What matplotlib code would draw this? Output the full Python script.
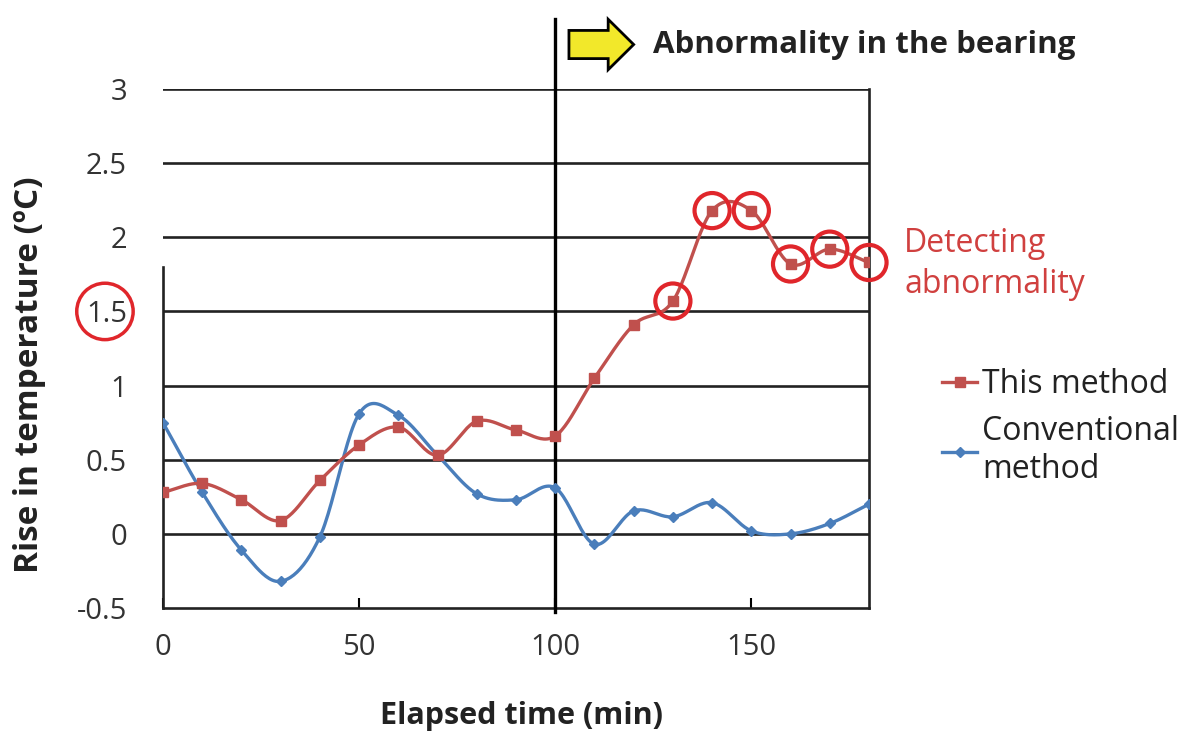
import numpy as np
import matplotlib
matplotlib.use("Agg")
import matplotlib.pyplot as plt
from matplotlib.patches import FancyArrow

plt.rcParams['font.family'] = ['Open Sans', 'DejaVu Sans']

# data
minutes = [0, 10, 20, 30, 40, 50, 60, 70, 80, 90, 100, 110, 120, 130, 140, 150, 160, 170, 180]
this_method = [0.28, 0.34, 0.23, 0.09, 0.36, 0.60, 0.72, 0.53, 0.76, 0.70, 0.66,
               1.05, 1.41, 1.57, 2.18, 2.18, 1.82, 1.92, 1.83]
conventional = [0.75, 0.28, -0.11, -0.32, -0.02, 0.81, 0.80, 0.53, 0.27, 0.23, 0.31,
                -0.07, 0.155, 0.115, 0.21, 0.02, 0.0, 0.07, 0.2]
detected = [130, 140, 150, 160, 170, 180]
y_ticks = [-0.5, 0, 0.5, 1, 1.5, 2, 2.5, 3]
y_tick_labels = ['-0.5', '0', '0.5', '1', '1.5', '2', '2.5', '3']
x_ticks = [0, 50, 100, 150]

red = '#c0504d'
blue = '#4a7ebb'
ring = '#e0262b'


def smooth(x, y, n=24):
    # Catmull-Rom spline, like Excel's "smoothed line"
    x = np.asarray(x, float)
    y = np.asarray(y, float)
    px = np.concatenate([[2 * x[0] - x[1]], x, [2 * x[-1] - x[-2]]])
    py = np.concatenate([[2 * y[0] - y[1]], y, [2 * y[-1] - y[-2]]])
    t = np.linspace(0, 1, n, endpoint=False)
    xs, ys = [], []
    for i in range(1, len(px) - 2):
        for p, out in ((px, xs), (py, ys)):
            p0, p1, p2, p3 = p[i - 1], p[i], p[i + 1], p[i + 2]
            out.extend(0.5 * (2 * p1 + (-p0 + p2) * t
                              + (2 * p0 - 5 * p1 + 4 * p2 - p3) * t ** 2
                              + (-p0 + 3 * p1 - 3 * p2 + p3) * t ** 3))
    xs.append(x[-1])
    ys.append(y[-1])
    return np.array(xs), np.array(ys)


fig = plt.figure(figsize=(11.84, 7.35), dpi=100)
ax = fig.add_axes([163 / 1184, 1 - 608 / 735, 706 / 1184, 519 / 735])
ax.set_xlim(0, 180)
ax.set_ylim(-0.5, 3)

for yv in y_ticks[1:]:
    ax.axhline(yv, color='#222222', lw=1.9, zorder=1)

ax.spines['top'].set_visible(False)
for s in ('left', 'right', 'bottom'):
    ax.spines[s].set_color('#222222')
    ax.spines[s].set_linewidth(1.9)
ax.spines['left'].set_bounds(-0.5, 1.8)

# event line at 100 min, running above the plot
ax.plot([100, 100], [-0.53, 3.47], color='black', lw=2.4, clip_on=False, zorder=3)

sx, sy = smooth(minutes, conventional)
ax.plot(sx, sy, color=blue, lw=2.4, zorder=4)
ax.plot(minutes, conventional, 'D', color=blue, ms=5, zorder=5)
rx, ry = smooth(minutes, this_method)
ax.plot(rx, ry, color=red, lw=2.4, zorder=4)
ax.plot(minutes, this_method, 's', color=red, ms=7, zorder=5)

# rings around detected points
det_y = [this_method[minutes.index(m)] for m in detected]
ax.scatter(detected, det_y, s=640, facecolors='none', edgecolors=ring, linewidths=3,
           zorder=6, clip_on=False)
ax.scatter([-14.8], [1.5], s=1650, facecolors='none', edgecolors=ring, linewidths=2.5,
           clip_on=False)

ax.set_yticks(y_ticks)
ax.set_yticklabels(y_tick_labels)
ax.tick_params(axis='y', length=0, pad=26, labelsize=21, labelcolor='#333333')
ax.set_xticks(x_ticks)
ax.tick_params(axis='x', direction='in', length=7, width=1.5, pad=18,
               labelsize=21, labelcolor='#333333')

arrow = FancyArrow(103.5, 3.30, 16.5, 0, width=0.19, head_width=0.34, head_length=6.5,
                   length_includes_head=True, facecolor='#f2e82a', edgecolor='black',
                   lw=2, clip_on=False, zorder=6)
ax.add_patch(arrow)
ax.text(125, 3.30, 'Abnormality in the bearing', fontsize=22.5, fontweight='bold',
        color='#222222', va='center', ha='left')

ax.text(189, 1.82, 'Detecting\nabnormality', fontsize=23, color='#d0403f',
        va='center', ha='left', linespacing=1.3)

handles = [plt.Line2D([], [], color=red, lw=2.4, marker='s', ms=7),
           plt.Line2D([], [], color=blue, lw=2.4, marker='D', ms=5)]
fig.legend(handles, ['This method', 'Conventional\nmethod'], loc='upper left',
           bbox_to_anchor=(926 / 1184, 1 - 352 / 735), frameon=False, fontsize=23,
           handlelength=1.1, handletextpad=0.15, borderpad=0, labelspacing=0.45,
           labelcolor='#222222')

fig.text(30 / 1184, 1 - 375 / 735, 'Rise in temperature (ºC)', rotation=90,
         fontsize=24, fontweight='bold', color='#222222', ha='center', va='center')
fig.text(522 / 1184, 1 - 716 / 735, 'Elapsed time (min)', fontsize=22,
         fontweight='bold', color='#222222', ha='center', va='center')

fig.savefig('out.png', dpi=100)
